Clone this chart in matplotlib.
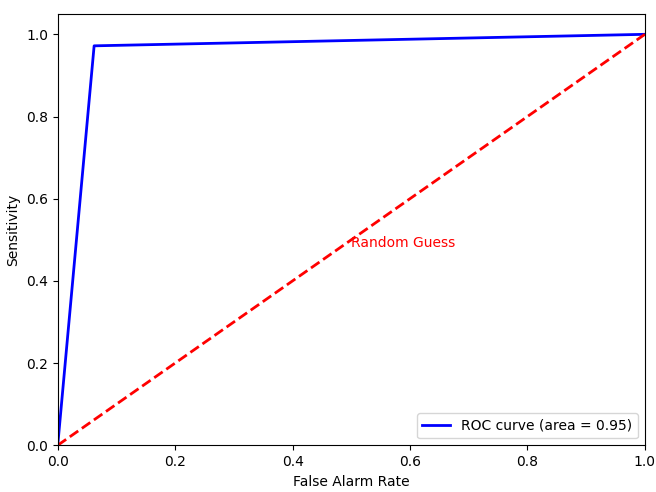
import matplotlib
matplotlib.use('Agg')
import matplotlib.pyplot as plt

fpr = [0.0, 0.062, 1.0]
tpr = [0.0, 0.972, 1.0]
roc_auc = 0.95
diag = [0.0, 1.0]

fig = plt.figure(figsize=(6.56, 4.92), dpi=100)
ax = fig.add_subplot(111)
fig.subplots_adjust(left=0.088, right=0.983, top=0.972, bottom=0.095)

ax.plot(fpr, tpr, color='blue', lw=2, label='ROC curve (area = %0.2f)' % roc_auc)
ax.plot(diag, diag, color='red', lw=2, linestyle='--')
ax.text(0.5, 0.492, 'Random Guess', color='red', va='center')
ax.set_xlim([0.0, 1.0])
ax.set_ylim([0.0, 1.05])
ax.set_xlabel('False Alarm Rate')
ax.set_ylabel('Sensitivity')
ax.legend(loc='lower right')

fig.savefig('out.png')
